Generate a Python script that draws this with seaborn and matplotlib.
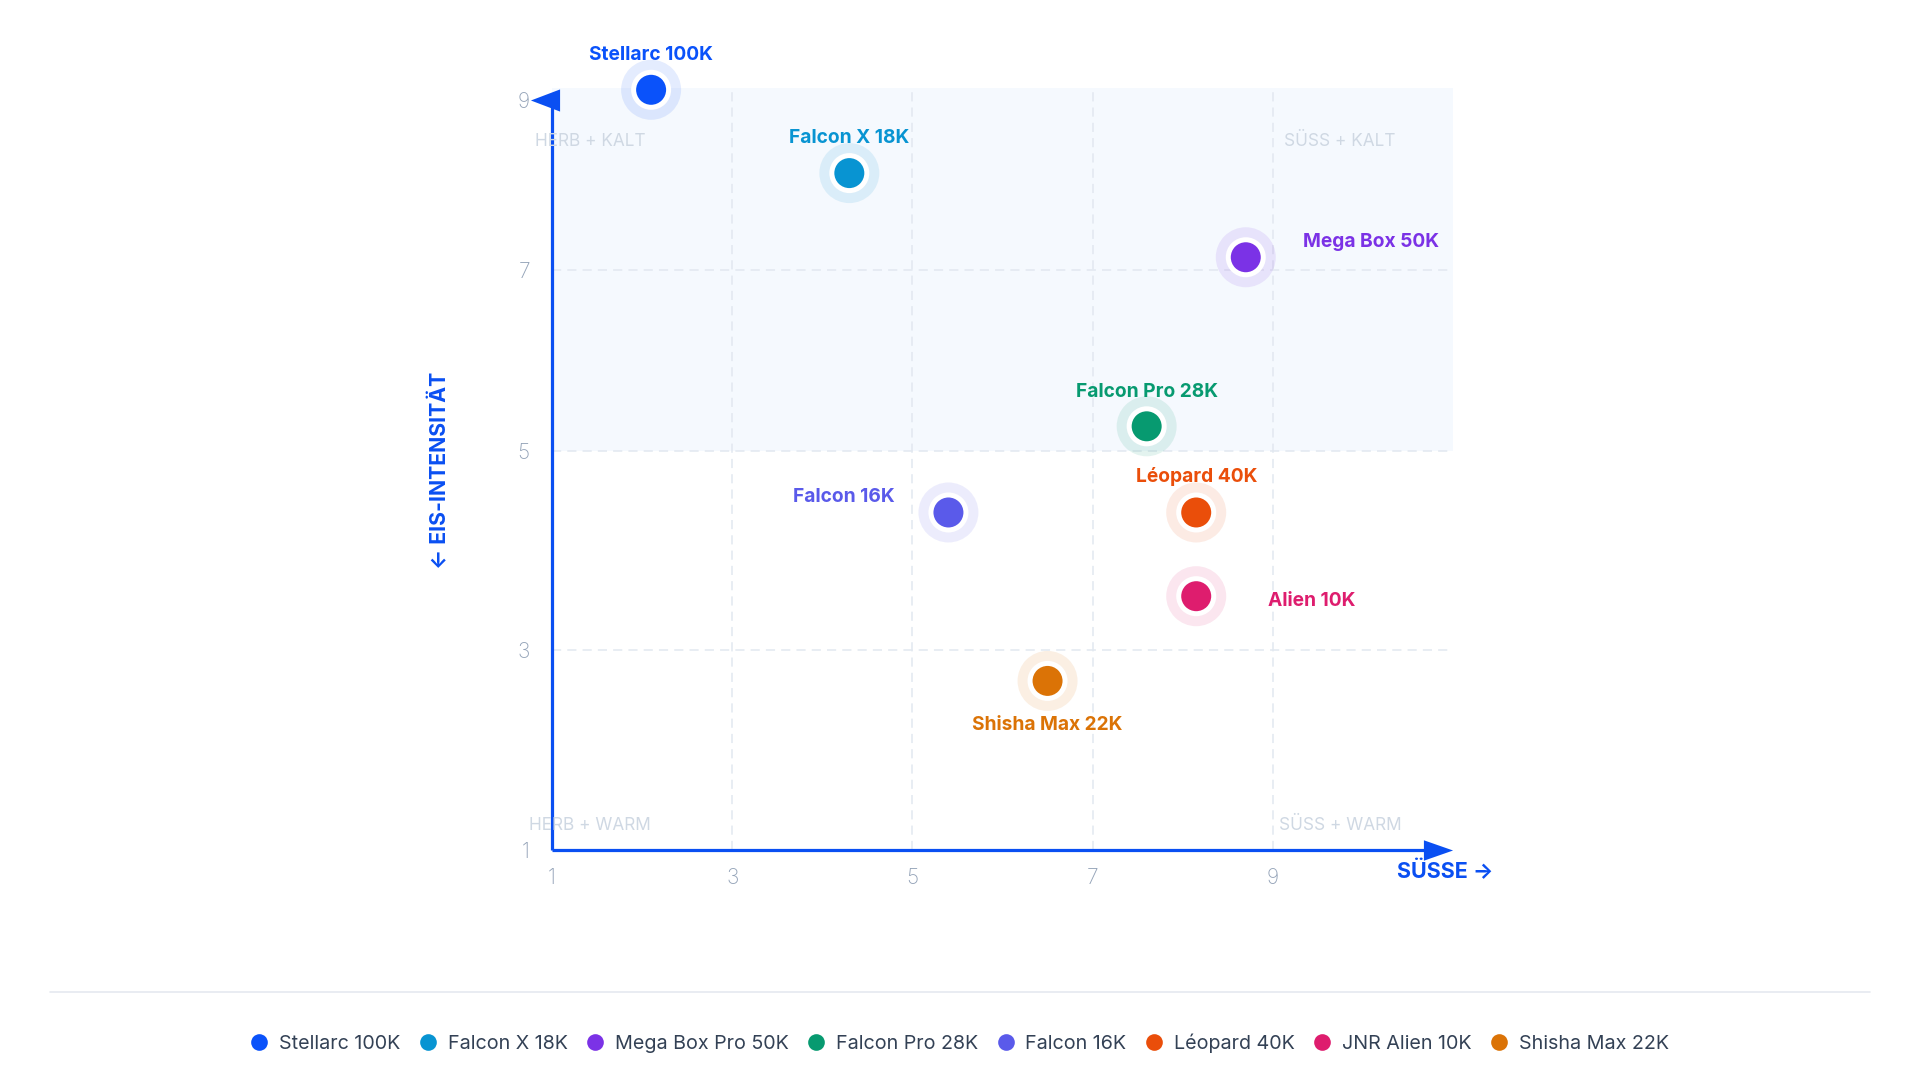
import numpy as np
import pandas as pd
import matplotlib
matplotlib.use("Agg")
import matplotlib.pyplot as plt
import seaborn as sns
from matplotlib.lines import Line2D

# ---------------- data ----------------
products = ["Stellarc 100K", "Falcon X 18K", "Mega Box Pro 50K", "Falcon Pro 28K",
            "Falcon 16K", "Léopard 40K", "JNR Alien 10K", "Shisha Max 22K"]
point_labels = ["Stellarc 100K", "Falcon X 18K", "Mega Box 50K", "Falcon Pro 28K",
                "Falcon 16K", "Léopard 40K", "Alien 10K", "Shisha Max 22K"]
suesse = [2.1, 4.3, 8.7, 7.6, 5.4, 8.15, 8.15, 6.5]
eis = [9.12, 8.14, 7.15, 5.27, 4.38, 4.38, 3.54, 2.69]
colors = ["#0A52FA", "#0894D2", "#7B32E6", "#079A70", "#5A5AEA", "#EA4E0A", "#DE1D6E", "#DB7306"]
x_ticks = [1, 3, 5, 7, 9]
y_ticks = [1, 3, 5, 7, 9]
grid_x = [3, 5, 7, 9]
grid_y = [3, 5, 7]
quadrants = ["HERB + KALT", "SÜSS + KALT", "HERB + WARM", "SÜSS + WARM"]
x_title = "SÜSSE →"
y_title = "← EIS-INTENSITÄT"

# ---------------- layout / style ----------------
W, H = 1920, 1080
AX_L, AX_R, AX_T, AX_B = 552, 1453, 88, 849.5
# y axis of the original is not evenly spaced: value -> pixel row knots
KV = np.array([0.0, 1, 3, 5, 7, 9, 10])
KP = -np.array([949.0, 849.5, 650, 450.7, 270, 100, 15])
BLUE = "#0A4FF2"
GRID = "#E2E8F0"
TICK = "#94A3B8"
QUAD = "#CFD8E3"
SHADE = "#F5F9FE"
LEG_TXT = "#334155"
# label offsets (points) and alignment per point
offsets = [(0, 25), (0, 25), (41, 11), (0, 25), (-39, 11.5), (0, 26), (52, -3.6), (0, -32)]
aligns = ["center", "center", "left", "center", "right", "center", "left", "center"]

sns.set_theme(style="white")
plt.rcParams["font.family"] = ["Inter", "DejaVu Sans"]

fig = plt.figure(figsize=(W / 100, H / 100), dpi=100)
fig.patch.set_facecolor("white")
ax = fig.add_axes([AX_L / W, 1 - AX_B / H, (AX_R - AX_L) / W, (AX_B - AX_T) / H])
ax.set_facecolor("white")


def fwd(v):
    return np.interp(v, KV, KP)


def inv(t):
    return np.interp(t, KP, KV)


ax.set_yscale("function", functions=(fwd, inv))

df = pd.DataFrame({"Produkt": products, "Süße": suesse, "Eis": eis})
pal = dict(zip(products, colors))

# halos
sns.scatterplot(data=df, x="Süße", y="Eis", hue="Produkt", palette=pal, s=1866,
                alpha=0.11, linewidth=0, legend=False, ax=ax, zorder=4)
# main dots with white ring
sns.scatterplot(data=df, x="Süße", y="Eis", hue="Produkt", palette=pal, s=635,
                edgecolor="white", linewidth=3.6, legend=False, ax=ax, zorder=5)
for c in ax.collections:
    c.set_clip_on(False)

ytop = float(inv(-AX_T))
ax.set_xlim(1, 11)
ax.set_ylim(1, ytop)
ax.set_xlabel("")
ax.set_ylabel("")

# shaded cold half
ax.axhspan(5, ytop, color=SHADE, zorder=0, lw=0)

# grid
for gx in grid_x:
    ax.axvline(gx, color=GRID, lw=1.1, ls=(0, (6, 4)), zorder=1)
for gy in grid_y:
    ax.axhline(gy, color=GRID, lw=1.1, ls=(0, (6, 4)), zorder=1)

for s in ax.spines.values():
    s.set_visible(False)

ax.set_xticks(x_ticks)
ax.set_yticks(y_ticks)
ax.set_xticklabels([str(t) for t in x_ticks])
ax.set_yticklabels([str(t) for t in y_ticks])
ax.tick_params(axis="both", length=0, labelsize=15, labelcolor=TICK)
ax.tick_params(axis="x", pad=13)
ax.tick_params(axis="y", pad=16)
for lab in ax.get_xticklabels() + ax.get_yticklabels():
    lab.set_fontweight("light")

# axis lines with arrowheads
ax.plot([1, 10.7], [1, 1], color=BLUE, lw=2.3, solid_capstyle="butt", clip_on=False, zorder=3)
ax.plot([1, 1], [1, 9], color=BLUE, lw=2.3, solid_capstyle="butt", clip_on=False, zorder=3)
ax.plot([10.83], [1], marker=[(0.5, 0), (-0.5, 0.35), (-0.5, -0.35)], ms=21,
        color=BLUE, mew=0, clip_on=False, zorder=3)
ax.plot([0.917], [9], marker=[(-0.5, 0), (0.5, 0.38), (0.5, -0.38)], ms=21,
        color=BLUE, mew=0, clip_on=False, zorder=3)

# point labels
for name, x, y, c, (dx, dy), ha in zip(point_labels, suesse, eis, colors, offsets, aligns):
    ax.annotate(name, xy=(x, y), xytext=(dx, dy), textcoords="offset points",
                ha=ha, va="center", fontsize=13.8, fontweight="bold", color=c,
                zorder=6, annotation_clip=False)

# quadrant labels
quad_pos = [(590, 141), (1340, 141), (590, 825), (1340, 825)]
for q, (px, py) in zip(quadrants, quad_pos):
    fig.text(px / W, 1 - py / H, q, ha="center", va="center", fontsize=12.4,
             color=QUAD, zorder=1)

# axis titles
fig.text(1445 / W, 1 - 871 / H, x_title, ha="center", va="center", fontsize=15.5,
         fontweight="bold", color=BLUE)
fig.text(440 / W, 1 - 470 / H, y_title, ha="center", va="center", fontsize=15.3,
         fontweight="bold", color=BLUE, rotation=90)

# separator line
fig.add_artist(Line2D([50 / W, 1870 / W], [1 - 992 / H, 1 - 992 / H],
                      color="#E5E9F0", lw=1.2))

# legend
handles = [Line2D([], [], ls="", marker="o", ms=12, color=c, mew=0) for c in colors]
fig.legend(handles, products, loc="center", bbox_to_anchor=(0.5, 1 - 1043 / H),
           ncol=len(products), frameon=False, fontsize=14.2, handlelength=0.8,
           handletextpad=0.6, columnspacing=1.0, labelcolor=LEG_TXT)

fig.savefig("out.png", dpi=100, facecolor="white")
